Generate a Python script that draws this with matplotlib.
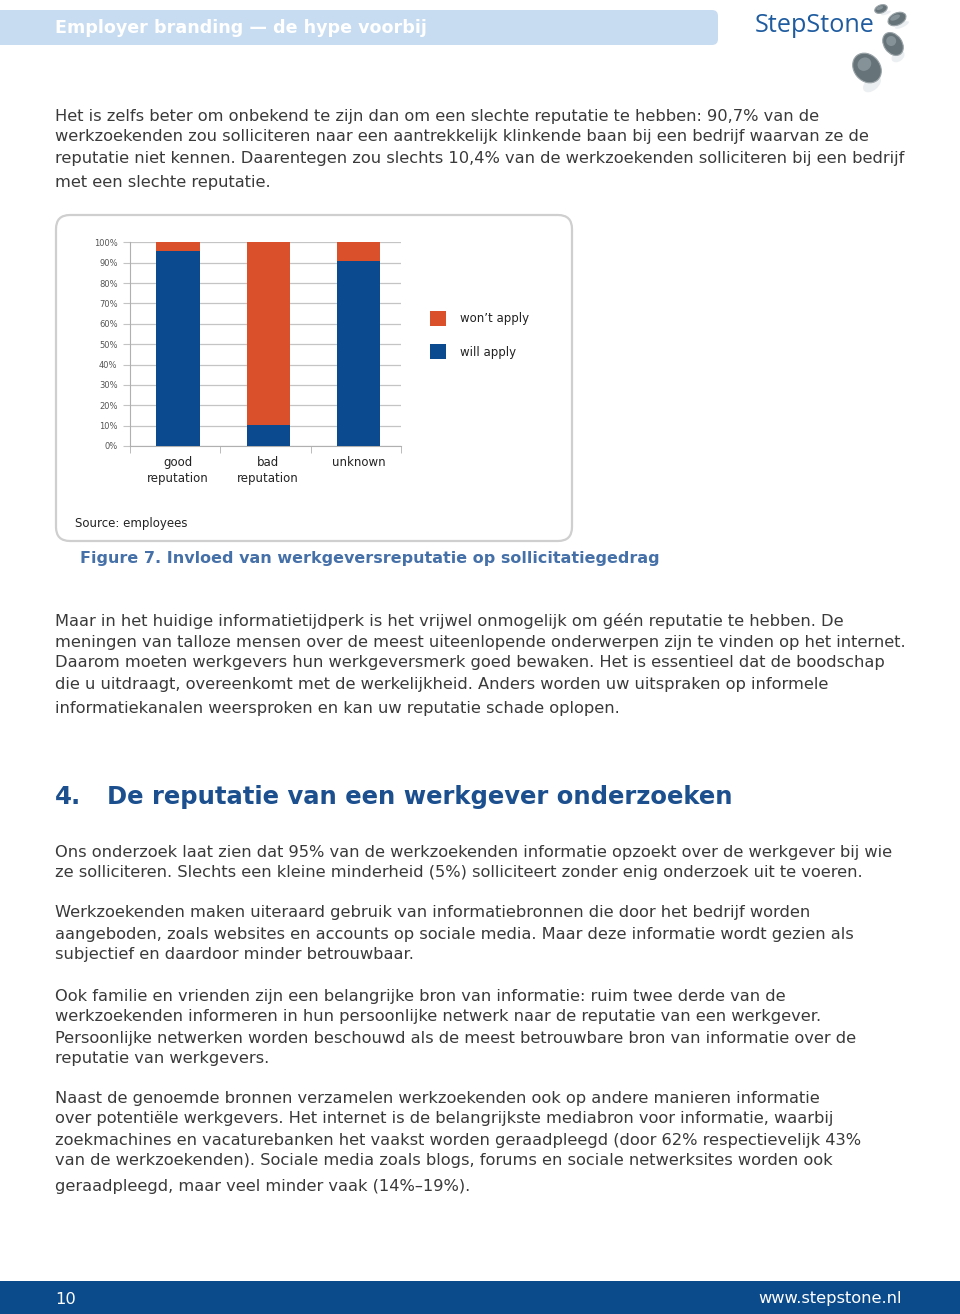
import matplotlib
matplotlib.use('Agg')
import matplotlib.pyplot as plt
from matplotlib.patches import FancyBboxPatch, Rectangle, Ellipse
import numpy as np

# chart data (percent of job seekers)
categories = ['good\nreputation', 'bad\nreputation', 'unknown']
will_apply = [95.6, 10.4, 90.7]
wont_apply = [4.4, 89.6, 9.3]
ytick_labels = ['0%', '10%', '20%', '30%', '40%', '50%', '60%', '70%', '80%', '90%', '100%']

BLUE = '#0b4a8e'
ORANGE = '#d9502a'
TEXT = '#3a3a3a'
W, H = 960, 1314
BODY = 11.68

para1 = [
    (116, "Het is zelfs beter om onbekend te zijn dan om een slechte reputatie te hebben: 90,7% van de"),
    (137, "werkzoekenden zou solliciteren naar een aantrekkelijk klinkende baan bij een bedrijf waarvan ze de"),
    (158, "reputatie niet kennen. Daarentegen zou slechts 10,4% van de werkzoekenden solliciteren bij een bedrijf"),
    (182, "met een slechte reputatie."),
]
para2 = [
    (621, "Maar in het huidige informatietijdperk is het vrijwel onmogelijk om géén reputatie te hebben. De"),
    (642, "meningen van talloze mensen over de meest uiteenlopende onderwerpen zijn te vinden op het internet."),
    (663, "Daarom moeten werkgevers hun werkgeversmerk goed bewaken. Het is essentieel dat de boodschap"),
    (684, "die u uitdraagt, overeenkomt met de werkelijkheid. Anders worden uw uitspraken op informele"),
    (708, "informatiekanalen weersproken en kan uw reputatie schade oplopen."),
]
para3 = [
    (852, "Ons onderzoek laat zien dat 95% van de werkzoekenden informatie opzoekt over de werkgever bij wie"),
    (873, "ze solliciteren. Slechts een kleine minderheid (5%) solliciteert zonder enig onderzoek uit te voeren."),
    (913, "Werkzoekenden maken uiteraard gebruik van informatiebronnen die door het bedrijf worden"),
    (934, "aangeboden, zoals websites en accounts op sociale media. Maar deze informatie wordt gezien als"),
    (955, "subjectief en daardoor minder betrouwbaar."),
    (996, "Ook familie en vrienden zijn een belangrijke bron van informatie: ruim twee derde van de"),
    (1017, "werkzoekenden informeren in hun persoonlijke netwerk naar de reputatie van een werkgever."),
    (1038, "Persoonlijke netwerken worden beschouwd als de meest betrouwbare bron van informatie over de"),
    (1059, "reputatie van werkgevers."),
    (1098, "Naast de genoemde bronnen verzamelen werkzoekenden ook op andere manieren informatie"),
    (1119, "over potentiële werkgevers. Het internet is de belangrijkste mediabron voor informatie, waarbij"),
    (1140, "zoekmachines en vacaturebanken het vaakst worden geraadpleegd (door 62% respectievelijk 43%"),
    (1161, "van de werkzoekenden). Sociale media zoals blogs, forums en sociale netwerksites worden ook"),
    (1186, "geraadpleegd, maar veel minder vaak (14%–19%)."),
]

fig = plt.figure(figsize=(W / 100, H / 100), dpi=100)
fig.patch.set_facecolor('white')

# page layer in pixel coordinates
page = fig.add_axes([0, 0, 1, 1])
page.set_xlim(0, W)
page.set_ylim(H, 0)
page.axis('off')

# header band
page.add_patch(FancyBboxPatch((-20, 10), 738, 35, boxstyle='round,pad=0,rounding_size=6',
                              facecolor='#c7dcf1', edgecolor='none'))
page.text(55, 28, 'Employer branding — de hype voorbij', color='white', fontsize=12.65,
          fontweight='bold', va='center', ha='left')

# logo
page.text(755, 25, 'StepStone', color='#1f5c9f', fontsize=18.1, family='Open Sans',
          va='center', ha='left')
for (cx, cy, w, h, ang) in [(881, 9, 13, 8, -20), (897, 19, 19, 12, -25),
                            (893, 44, 18, 25, -35), (867, 68, 26, 32, -40)]:
    page.add_patch(Ellipse((cx + 5, cy + h * 0.5), w * 0.8, h * 0.4, angle=ang,
                           facecolor='#eceff1', edgecolor='none'))
    page.add_patch(Ellipse((cx, cy), w, h, angle=ang, facecolor='#66747a', edgecolor='#9aa4a8', lw=0.8))
    page.add_patch(Ellipse((cx - w * 0.1, cy - h * 0.12), w * 0.55, h * 0.4, angle=ang,
                           facecolor='#8e9a9f', edgecolor='none', alpha=0.8))

for y, line in para1 + para2 + para3:
    page.text(55, y, line, color=TEXT, fontsize=BODY, va='center', ha='left')

# chart frame
page.add_patch(FancyBboxPatch((56, 215), 516, 326, boxstyle='round,pad=0,rounding_size=14',
                              facecolor='white', edgecolor='#cfcfcf', lw=1.6))
page.text(75, 523, 'Source: employees', color='#222222', fontsize=8.5, va='center', ha='left')

page.text(80, 559, 'Figure 7. Invloed van werkgeversreputatie op sollicitatiegedrag', color='#4570a8',
          fontsize=11.55, fontweight='bold', va='center', ha='left')

# section heading
page.text(55, 797, '4.', color='#1b4f8e', fontsize=17.6, fontweight='bold', va='center', ha='left')
page.text(107, 797, 'De reputatie van een werkgever onderzoeken', color='#1b4f8e', fontsize=17.5,
          fontweight='bold', va='center', ha='left')

# footer band
page.add_patch(Rectangle((0, 1281), W, 40, facecolor='#0b4a8b', edgecolor='none'))
page.text(55, 1299, '10', color='white', fontsize=11.7, va='center', ha='left')
page.text(902, 1299, 'www.stepstone.nl', color='white', fontsize=11.7, va='center', ha='right')

# stacked bar chart
ax = fig.add_axes([130 / W, 1 - 446 / H, 271 / W, 203.7 / H])
x = np.arange(len(categories)) + 0.03
b1 = ax.bar(x, will_apply, width=0.48, color=BLUE, zorder=3, label='will apply')
b2 = ax.bar(x, wont_apply, width=0.48, bottom=will_apply, color=ORANGE, zorder=3, label="won\u2019t apply")
ax.set_xlim(-0.5, 2.5)
ax.set_ylim(0, 100)
ax.set_yticks(np.arange(0, 101, 10))
ax.set_yticklabels(ytick_labels, fontsize=6, color='#555555')
ax.yaxis.grid(True, color='#c4c4c4', lw=0.9, zorder=0)
ax.tick_params(axis='y', length=5, color='#c4c4c4', pad=4)
ax.set_xticks(x)
ax.set_xticklabels(categories, fontsize=8.5, color='#222222', linespacing=1.35)
ax.tick_params(axis='x', which='major', length=0, pad=7)
ax.set_xticks([-0.5, 0.5, 1.5, 2.5], minor=True)
ax.tick_params(axis='x', which='minor', length=5, color='#b0b0b0', direction='out')
for s in ['top', 'right']:
    ax.spines[s].set_visible(False)
ax.spines['left'].set_color('#b0b0b0')
ax.spines['bottom'].set_color('#b0b0b0')
ax.set_facecolor('none')

fig.legend(handles=[b2, b1], loc='upper left', bbox_to_anchor=(419 / W, 1 - 300 / H),
           frameon=False, fontsize=8.5, handlelength=1.36, handleheight=1.65,
           labelspacing=1.5, handletextpad=1.2, labelcolor='#222222')

fig.savefig('out.png', dpi=100)
